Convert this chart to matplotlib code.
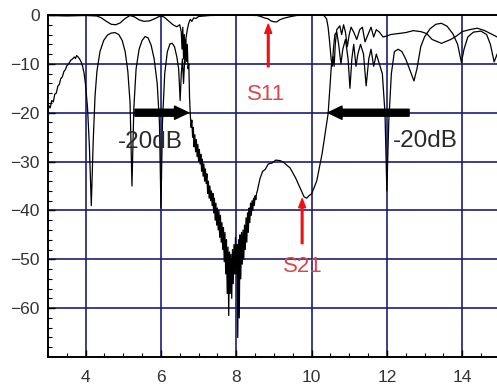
import matplotlib
matplotlib.use("Agg")
import matplotlib.pyplot as plt

# ---------------- data ----------------
s11_x = [3.00, 3.03, 3.06, 3.10, 3.14, 3.18, 3.22, 3.26, 3.30, 3.34, 3.38, 3.42, 3.46, 3.50,
         3.55, 3.60, 3.65, 3.70, 3.73, 3.76, 3.80, 3.84, 3.88, 3.92, 3.96, 4.00, 4.05, 4.10,
         4.15, 4.20, 4.25, 4.30, 4.38, 4.48, 4.58, 4.68, 4.78, 4.88, 4.97, 5.05, 5.12, 5.18,
         5.23, 5.28, 5.34, 5.42, 5.50, 5.58, 5.66, 5.74, 5.82, 5.90, 5.96, 6.00, 6.04, 6.10,
         6.17, 6.24, 6.30, 6.36, 6.42, 6.47, 6.51, 6.54, 6.57, 6.60, 6.63, 6.66, 6.70, 6.74,
         6.78, 6.82, 6.87, 6.93, 7.00, 7.30, 8.00, 8.55, 8.65, 8.75, 8.85, 8.92, 9.00, 9.08,
         9.15, 9.25, 9.40, 9.60, 10.00, 10.33, 10.40, 10.44, 10.48, 10.52, 10.55, 10.58,
         10.62, 10.67, 10.72, 10.78, 10.83, 10.90, 10.97, 11.02, 11.07, 11.12, 11.18, 11.23,
         11.30, 11.38, 11.45, 11.52, 11.58, 11.65, 11.72, 11.80, 11.88, 11.95, 12.00, 12.05,
         12.12, 12.20, 12.30, 12.40, 12.50, 12.60, 12.72, 12.80, 12.90, 13.00, 13.15, 13.30,
         13.45, 13.60, 13.75, 13.88, 13.98, 14.05, 14.15, 14.30, 14.50, 14.65, 14.75, 14.85,
         14.93]
s11_y = [-19.5, -18.6, -19.0, -17.5, -17.8, -16.2, -16.0, -14.6, -14.2, -13.0, -12.7, -11.6,
         -11.2, -10.4, -10.0, -9.3, -9.0, -8.6, -8.9, -8.3, -8.6, -9.0, -9.6, -10.5, -12.0,
         -14.5, -19.0, -27.0, -39.0, -26.0, -16.5, -11.5, -7.5, -5.2, -4.1, -3.7, -3.6, -4.0,
         -5.2, -7.5, -11.5, -18.0, -35.0, -19.0, -11.0, -7.0, -5.2, -4.4, -4.7, -6.2, -9.0,
         -14.0, -22.0, -39.5, -22.0, -12.0, -7.5, -5.9, -5.8, -6.5, -8.5, -11.0, -17.5, -12.0,
         -9.0, -14.0, -9.0, -5.0, -3.0, -1.6, -0.9, -1.3, -0.6, -0.7, -0.3, -0.1, 0.0, -0.1,
         -0.3, -0.6, -0.8, -1.2, -1.4, -1.4, -1.0, -0.7, -0.4, -0.1, 0.0, -0.1, -0.8, -2.5,
         -5.5, -9.0, -10.5, -7.0, -4.0, -3.5, -6.0, -10.0, -7.0, -5.0, -9.0, -15.0, -9.0,
         -6.0, -10.5, -8.0, -6.0, -8.0, -14.5, -9.0, -7.0, -10.5, -8.0, -10.0, -12.0, -20.0,
         -36.0, -22.0, -12.0, -7.5, -7.0, -7.5, -9.0, -11.0, -13.5, -11.0, -6.5, -4.5, -2.8,
         -1.9, -1.7, -2.3, -3.8, -6.0, -9.7, -7.0, -4.5, -3.5, -3.3, -4.0, -6.0, -9.6, -8.0]

s21_x = [3.00, 3.50, 4.00, 4.30, 4.42, 4.55, 4.68, 4.80, 4.92, 5.05, 5.18, 5.30, 5.42, 5.55,
         5.70, 5.85, 5.98, 6.08, 6.20, 6.32, 6.42, 6.50, 6.54, 6.56, 6.58, 6.60, 6.62, 6.64,
         6.66, 6.68, 6.70, 6.72, 6.74, 6.76,
         6.78, 6.80, 6.82, 6.84, 6.86, 6.88, 6.90, 6.92, 6.94, 6.96, 6.98, 7.00, 7.02, 7.04,
         7.06, 7.08, 7.10, 7.12, 7.14, 7.16, 7.18, 7.20, 7.22, 7.24, 7.26, 7.28, 7.30, 7.32,
         7.34, 7.36, 7.38, 7.40, 7.42, 7.44, 7.46, 7.48, 7.50, 7.52, 7.54, 7.56, 7.58, 7.60,
         7.62, 7.64, 7.66, 7.68, 7.70, 7.72, 7.74, 7.76, 7.78, 7.80, 7.82, 7.84, 7.86, 7.88,
         7.90, 7.92, 7.94, 7.96, 7.98, 8.00, 8.02, 8.04, 8.06, 8.08, 8.10, 8.12, 8.14, 8.16,
         8.18, 8.20, 8.22, 8.24, 8.26, 8.28, 8.30, 8.32, 8.34, 8.36, 8.38, 8.40, 8.42, 8.44,
         8.46, 8.48, 8.50, 8.52, 8.54, 8.56,
         8.63, 8.70, 8.77, 8.85, 8.95, 9.05, 9.16, 9.25, 9.35, 9.43, 9.50, 9.58, 9.66, 9.73,
         9.80, 9.87, 9.93, 10.00, 10.07, 10.14, 10.21, 10.28, 10.36, 10.44, 10.49, 10.53,
         10.57, 10.60, 10.63, 10.67, 10.72, 10.75, 10.80, 10.85, 10.90, 10.95, 11.00, 11.05,
         11.12, 11.20, 11.28, 11.35, 11.42, 11.50, 11.58, 11.65, 11.72, 11.80, 11.90, 12.00,
         12.10, 12.30, 12.50, 12.70, 12.90, 13.06, 13.20, 13.45, 13.70, 13.85, 14.00, 14.20,
         14.40, 14.60, 14.80, 14.93]
s21_y = [-0.1, -0.2, -0.1, -0.2, -0.6, -1.3, -1.9, -2.0, -1.6, -0.7, -0.1, -0.4, -1.0, -1.3,
         -1.2, -0.7, -0.2, -0.4, -1.2, -2.0, -2.4, -2.0, -3.5, -7.0, -2.5, -9.0, -4.0, -10.0,
         -5.0, -9.5, -6.0, -11.0, -10.0, -17.0,
         -20.5, -23.0, -21.5, -25.0, -23.0, -27.0, -24.5, -28.0, -25.5, -29.0, -26.5, -30.0,
         -27.5, -30.5, -28.5, -32.0, -29.5, -33.0, -30.5, -34.0, -31.5, -34.5, -32.5, -36.5,
         -34.0, -37.5, -35.0, -38.0, -36.0, -39.0, -36.5, -40.5, -37.5, -42.0, -38.5, -43.0,
         -39.5, -44.0, -40.0, -45.5, -41.0, -46.5, -42.5, -48.0, -43.5, -50.5, -44.5, -53.0,
         -46.0, -57.0, -47.5, -61.5, -48.5, -57.0, -49.0, -58.0, -48.0, -55.0, -47.0, -53.0,
         -45.5, -53.0, -47.0, -66.0, -46.0, -62.0, -45.0, -54.0, -44.5, -51.0, -44.0, -50.0,
         -43.0, -48.0, -41.5, -46.5, -40.5, -44.5, -39.5, -42.5, -38.5, -41.0, -38.0, -40.0,
         -37.5, -39.0, -37.0, -37.8, -36.5, -36.0,
         -33.5, -32.0, -31.6, -30.5, -30.3, -29.7, -29.8, -30.1, -30.8, -31.3, -32.3, -33.4,
         -34.8, -36.0, -37.2, -37.5, -37.0, -36.6, -35.3, -33.9, -31.2, -28.4, -24.3, -20.2,
         -14.7, -10.0, -8.5, -10.5, -6.0, -3.0, -2.5, -2.2, -4.0, -2.0, -3.5, -6.5, -4.0,
         -2.5, -3.5, -5.0, -3.0, -2.5, -5.5, -4.0, -2.5, -4.5, -3.0, -3.5, -4.5, -4.3, -4.0,
         -3.8, -3.6, -3.2, -3.4, -3.8, -5.0, -5.8, -5.0, -4.3, -3.4, -3.0, -2.7, -3.2, -4.0,
         -4.5]

x_ticks = [4, 6, 8, 10, 12, 14]
y_ticks = [0, -10, -20, -30, -40, -50, -60]

# annotations: (text, text position, arrow tail, arrow tip)
label_s11 = ("S11", (8.79, -16.3), (8.85, -10.6), (8.85, -1.9))
label_s21 = ("S21", (9.78, -51.5), (9.75, -46.8), (9.75, -37.6))
edge_left = ("-20dB", (5.71, -25.9), (5.31, -20.0), (6.73, -20.0))
edge_right = ("-20dB", (13.03, -25.7), (12.59, -20.0), (10.44, -20.0))

# ---------------- figure ----------------
fig = plt.figure(figsize=(4.97, 3.89), dpi=100)
ax = fig.add_axes([48 / 497, 1 - 357 / 389, 451.8 / 497, 342 / 389])

grid_col = "#1c1c78"
for xv in x_ticks:
    ax.axvline(xv, color=grid_col, lw=1.2, zorder=1)
for yv in y_ticks[1:]:
    ax.axhline(yv, color=grid_col, lw=1.2, zorder=1)

ax.plot(s11_x, s11_y, color="black", lw=0.9, zorder=3, clip_on=False)
ax.plot(s21_x, s21_y, color="black", lw=0.9, zorder=3, clip_on=False)

ax.set_xlim(3, 15)
ax.set_ylim(-70, 0)

ax.spines["right"].set_visible(False)
for s in ("left", "bottom", "top"):
    ax.spines[s].set_linewidth(1.4)
    ax.spines[s].set_color("black")

ax.set_xticks(x_ticks)
ax.set_yticks(y_ticks)
ax.set_xticks([v / 2 for v in range(7, 30)], minor=True)
ax.set_yticks(list(range(-68, 1, 2)), minor=True)
tick_font = dict(family=["Liberation Sans", "DejaVu Sans"], size=12.5)
ax.set_xticklabels([str(v) for v in x_ticks], **tick_font, color="#333333")
ax.set_yticklabels([str(v).replace("-", "\u2212") for v in y_ticks], **tick_font, color="#333333")
ax.tick_params(axis="both", which="major", direction="in", length=5, width=1, colors="black",
               labelcolor="#333333")
ax.tick_params(axis="both", which="minor", direction="in", length=3, width=0.8, colors="black")
ax.tick_params(axis="x", which="major", pad=9)
ax.tick_params(axis="y", which="major", pad=6)
ax.tick_params(top=False, right=False, which="both")

# black -20dB arrows and labels
for txt, tpos, tail, tip in (edge_left, edge_right):
    ax.annotate("", xy=tip, xytext=tail,
                arrowprops=dict(arrowstyle="simple,head_length=1.0,head_width=0.95,tail_width=0.5",
                                color="black", shrinkA=0, shrinkB=0, mutation_scale=10),
                zorder=4)
    ax.text(tpos[0], tpos[1], txt, ha="center", va="center", fontsize=17.5,
            family=["Liberation Sans", "DejaVu Sans"], color="#2a2a2a", zorder=5)

# red S11 / S21 labels
for txt, tpos, tail, tip in (label_s11, label_s21):
    ax.annotate("", xy=tip, xytext=tail,
                arrowprops=dict(arrowstyle="simple,head_length=0.65,head_width=0.5,tail_width=0.12",
                                color="#ee1111", shrinkA=0, shrinkB=0, mutation_scale=10),
                zorder=4)
    ax.text(tpos[0], tpos[1], txt, ha="center", va="center", fontsize=16,
            family=["Liberation Sans", "DejaVu Sans"], color="#d84848", zorder=5)

fig.savefig("out.png", dpi=100, facecolor="white")
